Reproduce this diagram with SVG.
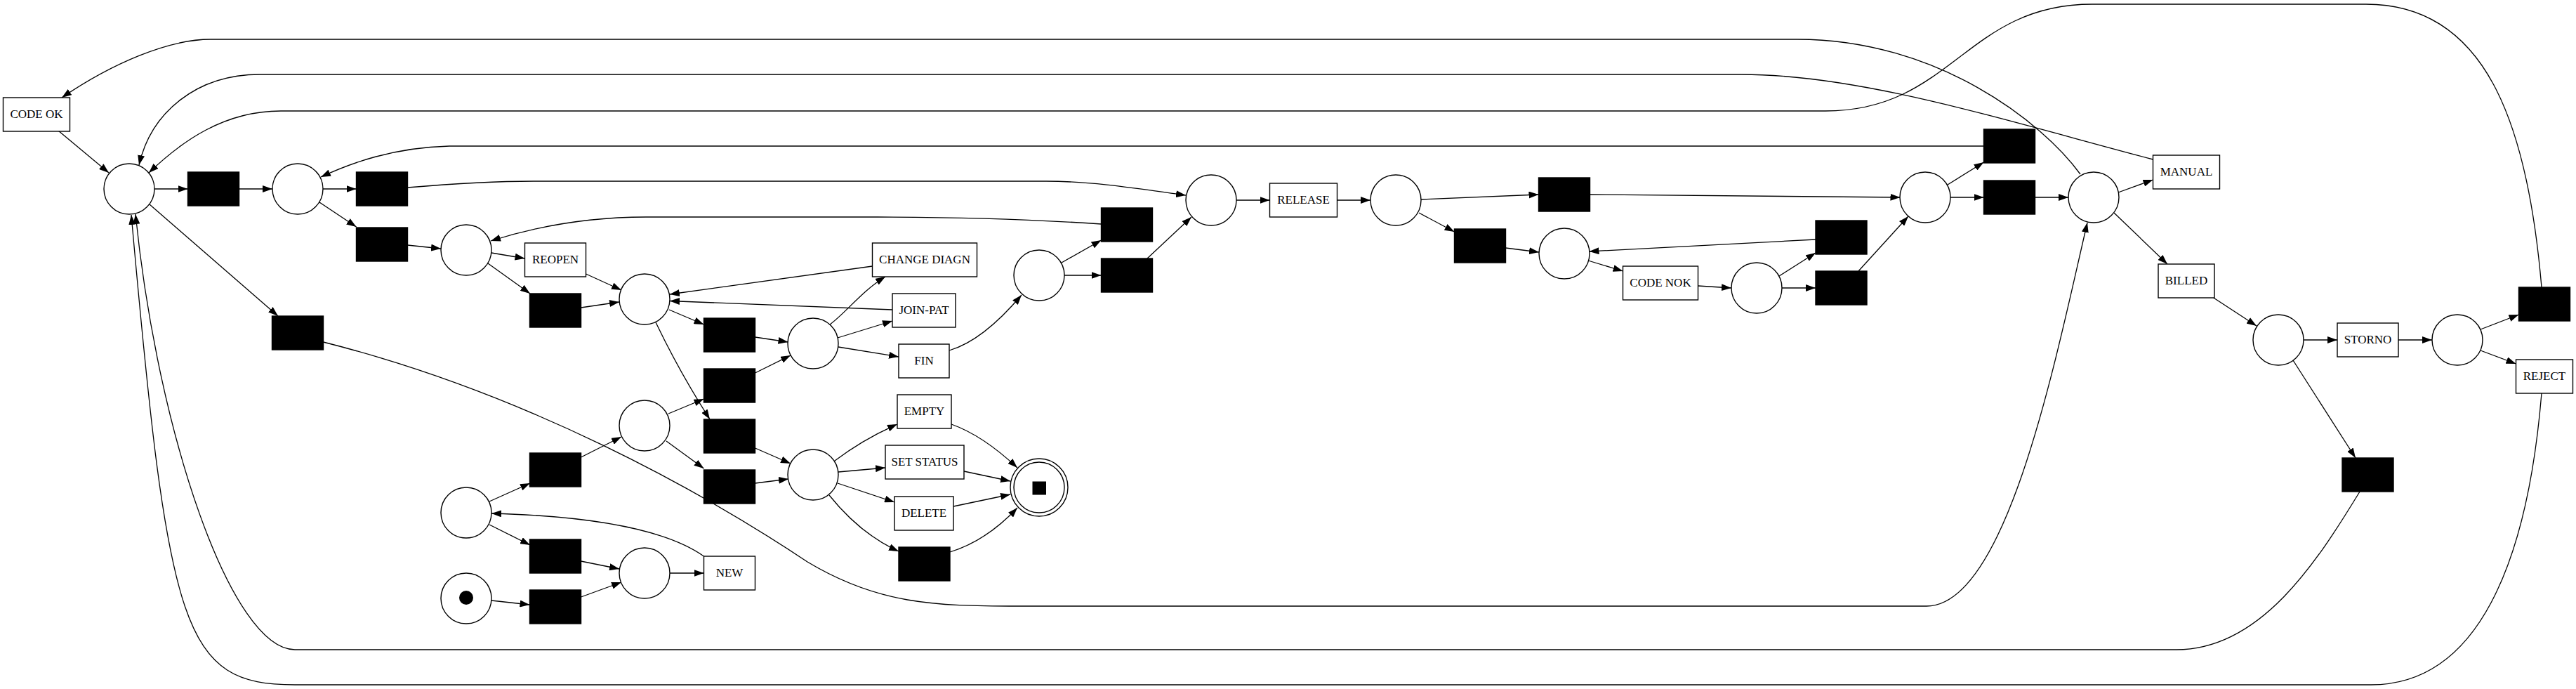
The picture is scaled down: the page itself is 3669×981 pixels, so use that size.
<svg xmlns="http://www.w3.org/2000/svg" width="3669" height="981" viewBox="0 0 3669 981">
<defs>
<marker id="a" markerWidth="14" markerHeight="10" refX="14" refY="5" orient="auto" markerUnits="userSpaceOnUse"><path d="M0,0 L14,5 L0,10 z" fill="#000"/></marker>
</defs>
<style>
.p{fill:#fff;stroke:#000;stroke-width:1.4}
.t{fill:#000;stroke:#000;stroke-width:1.4}
.b{fill:#fff;stroke:#000;stroke-width:1.4}
.lbl{font-family:"Liberation Serif","Times New Roman",serif;font-size:17px;text-anchor:middle;fill:#000}
.e path{fill:none;stroke:#000;stroke-width:1.3;marker-end:url(#a)}
</style>
<rect width="3669" height="981" fill="#fff"/>
<g id="connectors" class="e">
<path d="M83,186 L155,246"/>
<path d="M220,269 L267.5,269"/>
<path d="M340.5,269 L388,269"/>
<path d="M213,291 L396,450"/>
<path d="M460,269 L507.5,269"/>
<path d="M455,288 L507.5,323"/>
<path d="M580.5,267 C640,262 700,258 760,258 L1490,258 C1560,258 1630,270 1689,278"/>
<path d="M580.5,349 L628,354"/>
<path d="M2825.5,208 L640,208 C560,210 500,232 457,252"/>
<path d="M700,360 L747.5,368"/>
<path d="M695,375 L755,418"/>
<path d="M834.5,390 L885,413"/>
<path d="M827.5,438 L882,430"/>
<path d="M1568.5,319 C1450,311 1350,309 1250,309 L920,309 C820,309 740,330 699,343"/>
<path d="M953,441 L1002.5,462"/>
<path d="M934,459 Q968,530 1011,597"/>
<path d="M1075.5,480 L1122.5,487"/>
<path d="M1075.5,531 L1126,506"/>
<path d="M1242.5,379 L954,419"/>
<path d="M1271,441 L954,428.5"/>
<path d="M1182,462 C1205,445 1228,414 1261,394"/>
<path d="M1193,481 L1271,457"/>
<path d="M1194,494 L1280,508"/>
<path d="M1352,499 Q1400,485 1455,420"/>
<path d="M1512,374 L1568.5,342"/>
<path d="M1516,392 L1568.5,392"/>
<path d="M1634,368 L1697,309"/>
<path d="M1761,285 L1808.5,285"/>
<path d="M1904.5,285 L1952,285"/>
<path d="M2024,284 L2191.5,277"/>
<path d="M2021,303 L2071.5,330"/>
<path d="M2144.5,353 L2192,359"/>
<path d="M2262,371 L2311.5,386"/>
<path d="M2264.5,277 L2706.5,281"/>
<path d="M2586,341 L2263.5,358"/>
<path d="M2418.5,407 L2466,410"/>
<path d="M2534,393 L2586,360"/>
<path d="M2538,410 L2586,410"/>
<path d="M2647,386 L2718,308"/>
<path d="M2774,263 L2825.5,231"/>
<path d="M2778,281 L2825.5,281"/>
<path d="M2898.5,281 L2946,281"/>
<path d="M2963,248 C2910,175 2760,56 2560,56 L300,56 C240,56 160,90 88,139"/>
<path d="M3066.5,227 C2850,170 2650,106 2480,106 L370,106 C280,106 215,160 198,235"/>
<path d="M3620,409 C3600,175 3540,6 3370,6 L2980,6 C2800,6 2780,158 2600,158 L400,158 C320,158 260,200 212,246"/>
<path d="M460.5,487 C750,560 1000,700 1150,800 C1250,860 1330,863 1450,863 L2744,863 C2860,863 2930,500 2973,317"/>
<path d="M3017,274 L3066.5,256"/>
<path d="M3011,303 L3087,376"/>
<path d="M3152,423.5 L3214,464"/>
<path d="M3281,484 L3329,484"/>
<path d="M3266,513 L3355,652"/>
<path d="M3416,484 L3464,484"/>
<path d="M3533,469 L3587.5,448"/>
<path d="M3533,499 L3583.5,518"/>
<path d="M3361,700 C3300,800 3220,925 3100,925 L420,925 C330,925 225,620 193,305"/>
<path d="M3620,560 C3600,800 3530,975 3377,975 L420,975 C260,975 240,900 187,306"/>
<path d="M827.5,651 L885,622"/>
<path d="M952,589 L1002.5,568"/>
<path d="M949,628 L1002.5,667"/>
<path d="M1075.5,638 L1126,660"/>
<path d="M1075.5,688 L1123,682"/>
<path d="M697,714 L755,688"/>
<path d="M697,747 L755,776"/>
<path d="M1002.5,792 C950,755 850,735 700,731"/>
<path d="M827.5,799 L882,810"/>
<path d="M827.5,850 L885,829"/>
<path d="M954,816 L1002.5,816"/>
<path d="M700,855 L754.5,861"/>
<path d="M1189,656 Q1230,625 1278,604"/>
<path d="M1194,672 L1261,666"/>
<path d="M1193,688 L1274,715"/>
<path d="M1181,705 Q1225,760 1280,785"/>
<path d="M1355,604 Q1400,620 1449,666"/>
<path d="M1373,671 L1439,685"/>
<path d="M1358,721 L1439,704"/>
<path d="M1353,786 Q1405,770 1449,723"/>
</g>
<g id="p1"><circle class="p" cx="184" cy="269" r="36"/></g>
<g id="p2"><circle class="p" cx="424" cy="269" r="36"/></g>
<g id="p3"><circle class="p" cx="664" cy="356" r="36"/></g>
<g id="p4"><circle class="p" cx="918" cy="426" r="36"/></g>
<g id="p5"><circle class="p" cx="1158" cy="489" r="36"/></g>
<g id="p6"><circle class="p" cx="1158" cy="676" r="36"/></g>
<g id="p7"><circle class="p" cx="918" cy="606" r="36"/></g>
<g id="p8"><circle class="p" cx="664" cy="730" r="36"/></g>
<g id="p9"><circle class="p" cx="918" cy="816" r="36"/></g>
<g id="start"><circle class="p" cx="664" cy="852" r="36"/><circle cx="664" cy="851" r="10" fill="#000"/></g>
<g id="end"><circle class="p" cx="1480" cy="694" r="41"/><circle class="p" cx="1480" cy="694" r="36"/><rect x="1470.5" y="685.5" width="19.5" height="19" fill="#000"/></g>
<g id="p10"><circle class="p" cx="1480" cy="392" r="36"/></g>
<g id="p11"><circle class="p" cx="1725" cy="285" r="36"/></g>
<g id="p12"><circle class="p" cx="1988" cy="285" r="36"/></g>
<g id="p13"><circle class="p" cx="2228" cy="361" r="36"/></g>
<g id="p14"><circle class="p" cx="2502" cy="410" r="36"/></g>
<g id="p15"><circle class="p" cx="2742" cy="281" r="36"/></g>
<g id="p16"><circle class="p" cx="2982" cy="281" r="36"/></g>
<g id="p17"><circle class="p" cx="3245" cy="484" r="36"/></g>
<g id="p18"><circle class="p" cx="3500" cy="484" r="36"/></g>
<g id="t1"><rect class="t" x="267.5" y="245" width="73" height="48"/></g>
<g id="t2"><rect class="t" x="507.5" y="245" width="73" height="48"/></g>
<g id="t3"><rect class="t" x="507.5" y="324" width="73" height="48"/></g>
<g id="t4"><rect class="t" x="387.5" y="450" width="73" height="48"/></g>
<g id="t5"><rect class="t" x="754.5" y="418" width="73" height="48"/></g>
<g id="t6"><rect class="t" x="1002.5" y="453" width="73" height="48"/></g>
<g id="t7"><rect class="t" x="1002.5" y="525" width="73" height="48"/></g>
<g id="t8"><rect class="t" x="1002.5" y="597" width="73" height="48"/></g>
<g id="t9"><rect class="t" x="1002.5" y="669" width="73" height="48"/></g>
<g id="t10"><rect class="t" x="754.5" y="645" width="73" height="48"/></g>
<g id="t11"><rect class="t" x="754.5" y="768" width="73" height="48"/></g>
<g id="t12"><rect class="t" x="754.5" y="840" width="73" height="48"/></g>
<g id="t13"><rect class="t" x="1280" y="779" width="73" height="48"/></g>
<g id="t14"><rect class="t" x="1568.5" y="296" width="73" height="48"/></g>
<g id="t15"><rect class="t" x="1568.5" y="368" width="73" height="48"/></g>
<g id="t16"><rect class="t" x="2191.5" y="253" width="73" height="48"/></g>
<g id="t17"><rect class="t" x="2071.5" y="326" width="73" height="48"/></g>
<g id="t18"><rect class="t" x="2586" y="314" width="73" height="48"/></g>
<g id="t19"><rect class="t" x="2586" y="386" width="73" height="48"/></g>
<g id="t20"><rect class="t" x="2825.5" y="184" width="73" height="48"/></g>
<g id="t21"><rect class="t" x="2825.5" y="257" width="73" height="48"/></g>
<g id="t22"><rect class="t" x="3587.5" y="409" width="73" height="48"/></g>
<g id="t23"><rect class="t" x="3336" y="652" width="73" height="48"/></g>
<g id="code-ok"><rect class="b" x="4.5" y="139" width="95" height="48"/><text class="lbl" x="52" y="168">CODE OK</text></g>
<g id="reopen"><rect class="b" x="747.5" y="346" width="87" height="48"/><text class="lbl" x="791" y="375">REOPEN</text></g>
<g id="new"><rect class="b" x="1002.5" y="792" width="73" height="48"/><text class="lbl" x="1039" y="821">NEW</text></g>
<g id="change-diagn"><rect class="b" x="1242.5" y="346" width="149" height="48"/><text class="lbl" x="1317" y="375">CHANGE DIAGN</text></g>
<g id="join-pat"><rect class="b" x="1271" y="418" width="90" height="48"/><text class="lbl" x="1316" y="447">JOIN-PAT</text></g>
<g id="fin"><rect class="b" x="1280" y="490" width="72" height="48"/><text class="lbl" x="1316" y="519">FIN</text></g>
<g id="empty"><rect class="b" x="1278" y="562" width="77" height="48"/><text class="lbl" x="1316.5" y="591">EMPTY</text></g>
<g id="set-status"><rect class="b" x="1261" y="634" width="112" height="48"/><text class="lbl" x="1317" y="663">SET STATUS</text></g>
<g id="delete"><rect class="b" x="1274" y="707" width="84" height="48"/><text class="lbl" x="1316" y="736">DELETE</text></g>
<g id="release"><rect class="b" x="1808.5" y="261" width="96" height="48"/><text class="lbl" x="1856.5" y="290">RELEASE</text></g>
<g id="code-nok"><rect class="b" x="2311.5" y="379" width="107" height="48"/><text class="lbl" x="2365" y="408">CODE NOK</text></g>
<g id="manual"><rect class="b" x="3066.5" y="221" width="95" height="48"/><text class="lbl" x="3114" y="250">MANUAL</text></g>
<g id="billed"><rect class="b" x="3074" y="376" width="80" height="48"/><text class="lbl" x="3114" y="405">BILLED</text></g>
<g id="storno"><rect class="b" x="3329" y="460" width="87" height="48"/><text class="lbl" x="3372.5" y="489">STORNO</text></g>
<g id="reject"><rect class="b" x="3583.5" y="512" width="81" height="48"/><text class="lbl" x="3624" y="541">REJECT</text></g>
</svg>
